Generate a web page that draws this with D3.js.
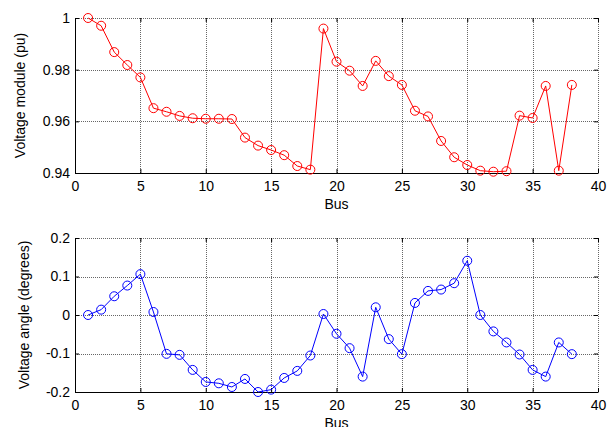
<!DOCTYPE html>
<html>
<head>
<meta charset="utf-8">
<script src="https://cdn.jsdelivr.net/npm/d3@7"></script>
<style>
  body { margin: 0; background: #fff; }
  text { font-family: "Liberation Sans", Arial, sans-serif; }
</style>
</head>
<body>
<div id="my_dataviz"></div>
<script>
// data
const bus = d3.range(1, 39);
const voltageModule = [
  1.000, 0.9970, 0.9868, 0.9818, 0.9770, 0.9651, 0.9637, 0.9621, 0.9612, 0.9610,
  0.9610, 0.9609, 0.9537, 0.9506, 0.9489, 0.9469, 0.9427, 0.9413, 0.9959, 0.9831,
  0.9796, 0.9737, 0.9834, 0.9775, 0.9741, 0.9641, 0.9619, 0.9524, 0.9461, 0.9431,
  0.9409, 0.9405, 0.9407, 0.9622, 0.9613, 0.9737, 0.9409, 0.9741
];
const voltageAngle = [
  0.000, 0.0139, 0.0487, 0.0765, 0.1061, 0.0078, -0.1009, -0.1035, -0.1426, -0.1739,
  -0.1774, -0.1870, -0.1661, -0.2000, -0.1939, -0.1635, -0.1452, -0.1052, 0.0026, -0.0487,
  -0.0861, -0.1600, 0.0200, -0.0626, -0.1017, 0.0313, 0.0626, 0.0661, 0.0826, 0.1409,
  0.0000, -0.0426, -0.0713, -0.1026, -0.1426, -0.1600, -0.0713, -0.1017
];
const xTicks = [0, 5, 10, 15, 20, 25, 30, 35, 40];
const moduleTicks = [0.94, 0.96, 0.98, 1];
const angleTicks = [-0.2, -0.1, 0, 0.1, 0.2];

const width = 615, height = 427;

const svg = d3.select("#my_dataviz")
  .append("svg")
    .attr("width", width)
    .attr("height", height);

// shared x scale
const x = d3.scaleLinear().domain([0, 40]).range([75, 598]);

function panel(values, yDomain, yTicks, top, bottom, color, yLabel, labelX) {
  const y = d3.scaleLinear().domain(yDomain).range([bottom, top]);
  const g = svg.append("g");

  // dotted grid (also forms top and right edges)
  g.selectAll("vgrid")
    .data(xTicks.slice(1))
    .join("line")
      .attr("x1", d => Math.round(x(d)) + 0.5)
      .attr("x2", d => Math.round(x(d)) + 0.5)
      .attr("y1", top)
      .attr("y2", bottom)
      .attr("stroke", "#000")
      .attr("stroke-dasharray", "1,1")
      .attr("stroke-opacity", 0.6);
  g.selectAll("hgrid")
    .data(yTicks.slice(1))
    .join("line")
      .attr("x1", x(0))
      .attr("x2", x(40))
      .attr("y1", d => Math.round(y(d)) + 0.5)
      .attr("y2", d => Math.round(y(d)) + 0.5)
      .attr("stroke", "#000")
      .attr("stroke-dasharray", "1,1")
      .attr("stroke-opacity", 0.6);

  // inward ticks on top and right edges
  const topAxis = g.append("g")
    .attr("transform", `translate(0, ${top})`)
    .call(d3.axisTop(x).tickValues(xTicks).tickSizeInner(-4).tickSizeOuter(0).tickFormat(""));
  topAxis.select(".domain").remove();
  const rightAxis = g.append("g")
    .attr("transform", `translate(${x(40)}, 0)`)
    .call(d3.axisRight(y).tickValues(yTicks).tickSizeInner(-4).tickSizeOuter(0).tickFormat(""));
  rightAxis.select(".domain").remove();

  // X axis
  g.append("g")
    .attr("transform", `translate(0, ${bottom})`)
    .call(d3.axisBottom(x).tickValues(xTicks).tickSizeInner(-4).tickSizeOuter(0)
      .tickPadding(8).tickFormat(d => String(d)))
    .selectAll("text")
      .style("font-size", "14px")
      .attr("fill", "#000");

  // Y axis
  g.append("g")
    .attr("transform", `translate(${x(0)}, 0)`)
    .call(d3.axisLeft(y).tickValues(yTicks).tickSizeInner(-4).tickSizeOuter(0)
      .tickPadding(5).tickFormat(d => String(d)))
    .selectAll("text")
      .style("font-size", "14px")
      .attr("fill", "#000");

  // X label
  g.append("text")
    .attr("x", (x(0) + x(40)) / 2)
    .attr("y", bottom + 36)
    .style("text-anchor", "middle")
    .style("font-size", "14px")
    .text("Bus");

  // Y label
  g.append("text")
    .attr("transform", `translate(${labelX}, ${(top + bottom) / 2}) rotate(-90)`)
    .style("text-anchor", "middle")
    .style("font-size", "14px")
    .text(yLabel);

  const pts = bus.map((b, i) => [b, values[i]]);

  g.append("path")
    .datum(pts)
    .attr("fill", "none")
    .attr("stroke", color)
    .attr("stroke-width", 1)
    .attr("d", d3.line().x(d => x(d[0])).y(d => y(d[1])));

  g.selectAll("marker")
    .data(pts)
    .join("circle")
      .attr("cx", d => x(d[0]))
      .attr("cy", d => y(d[1]))
      .attr("r", 4.5)
      .attr("fill", "none")
      .attr("stroke", color)
      .attr("stroke-width", 1)
    .append("title")
      .text(d => `Bus ${d[0]}: ${d[1]}`);
}

panel(voltageModule, [0.94, 1], moduleTicks, 18, 173, "#ff0000", "Voltage module (pu)", 25);
panel(voltageAngle, [-0.2, 0.2], angleTicks, 238, 392, "#0000ff", "Voltage angle (degrees)", 29);
</script>
</body>
</html>
